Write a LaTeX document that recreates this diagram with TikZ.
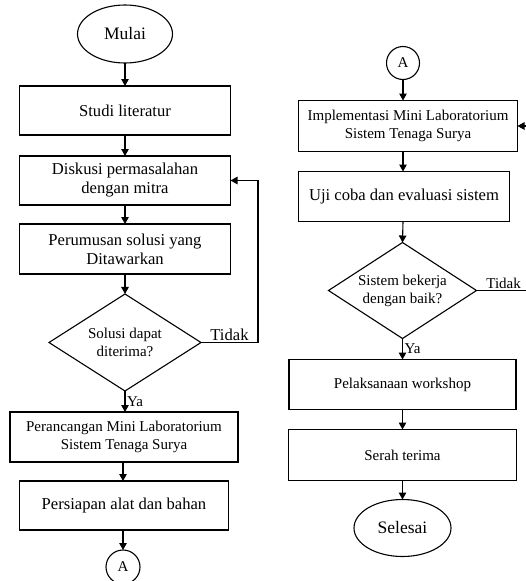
\documentclass[tikz,border=0pt]{standalone}
\usepackage{fontspec}
\setmainfont{Liberation Serif}
\usepackage{tikz}
\usetikzlibrary{shapes.geometric,arrows.meta,positioning,calc}

\begin{document}
\begin{tikzpicture}[
    x=1pt, y=1pt,
    every node/.style={font=\fontsize{15}{18}\selectfont},
    teksbesar/.style={font=\fontsize{16.6}{19}\selectfont},
    prosesbox/.style={rectangle, draw, line width=1.1pt, align=center, outer sep=0pt,
                      minimum width=211pt, minimum height=49pt, inner sep=2pt},
    keputusan/.style={diamond, draw, line width=1.1pt, align=center, aspect=1.56,
                      outer sep=0pt, minimum width=152pt, minimum height=97pt, inner sep=0pt},
    terminal/.style={ellipse, draw, line width=1.1pt, font=\fontsize{17.5}{20}\selectfont,
                     outer sep=0pt, minimum width=96pt, minimum height=57pt, inner sep=0pt},
    konektor/.style={circle, draw, line width=1.1pt, outer sep=0pt,
                     minimum size=34pt, inner sep=0pt},
    panah/.style={line width=1.1pt, -{Triangle[length=7pt,width=7.5pt]}},
    labelteks/.style={inner sep=1.5pt},
]
\useasboundingbox (0,0) rectangle (526,-581);

% kolom kiri
\node[terminal,minimum width=95pt,minimum height=58pt] (mulai) at (125,-34) {Mulai};
\node[prosesbox,teksbesar,below=23pt of mulai] (studi) {Studi literatur};
\node[prosesbox,teksbesar,below=21pt of studi] (diskusi) {Diskusi permasalahan\\dengan mitra};
\node[prosesbox,teksbesar,below=19pt of diskusi,minimum height=50pt] (rumus) {Perumusan solusi yang\\Ditawarkan};
\node[keputusan,below=20pt of rumus] (terima) {Solusi dapat\\diterima?};
\node[prosesbox,below=21pt of terima,minimum width=228pt,minimum height=50pt,xshift=-1pt] (rancang) {Perancangan Mini Laboratorium\\Sistem Tenaga Surya};
\node[prosesbox,teksbesar,below=19pt of rancang,minimum width=209pt] (siap) {Persiapan alat dan bahan};
\node[konektor,below=20pt of siap,xshift=-1pt] (konA) {A};

% kolom kanan
\node[konektor,minimum size=33pt] (konB) at (403,-63) {A};
\node[prosesbox,below=21pt of konB,minimum width=219pt,minimum height=51pt,xshift=5pt] (impl) {Implementasi Mini Laboratorium\\Sistem Tenaga Surya};
\node[prosesbox,teksbesar,below=20pt of impl,minimum height=50pt,xshift=-4pt] (uji) {Uji coba dan evaluasi sistem};
\node[keputusan,below=21pt of uji,xshift=-1.5pt,aspect=1.54,minimum width=148pt,minimum height=96pt] (cek) {Sistem bekerja\\dengan baik?};
\node[prosesbox,below=21pt of cek,minimum width=227pt,minimum height=50pt] (laksana) {Pelaksanaan workshop};
\node[prosesbox,below=20pt of laksana,minimum width=228pt,minimum height=51pt] (serah) {Serah terima};
\node[terminal,below=19pt of serah,minimum width=97pt] (selesai) {Selesai};

\coordinate (balikL) at ($(terima.east)+(57pt,0)$);
\coordinate (balikR) at ($(cek.east)+(63pt,0)$);

\draw[panah] (mulai) -- (studi);
\draw[panah] (studi) -- (diskusi);
\draw[panah] (diskusi) -- (rumus);
\draw[panah] (rumus) -- (terima);
\draw[panah] (terima.south) -- node[right,labelteks] {Ya} (terima.south |- rancang.north);
\draw[panah] (rancang.south -| konA) -- (siap.north -| konA);
\draw[panah] (siap.south -| konA) -- (konA);
\draw[panah] (terima.east) -- node[above,labelteks,teksbesar] {Tidak} (balikL) |- (diskusi.east);

\draw[panah] (konB) -- (konB |- impl.north);
\draw[panah] (impl.south -| konB) -- (uji.north -| konB);
\draw[panah] (uji.south -| konB) -- (cek.north);
\draw[panah] (cek.south) -- node[right,labelteks] {Ya} (cek.south |- laksana.north);
\draw[panah] (laksana.south -| cek) -- (serah.north -| cek);
\draw[panah] (serah.south -| cek) -- (selesai);
\draw[panah] (cek.east) -- node[above,labelteks,pos=0.43] {Tidak} (balikR) |- (impl.east);

\end{tikzpicture}
\end{document}
